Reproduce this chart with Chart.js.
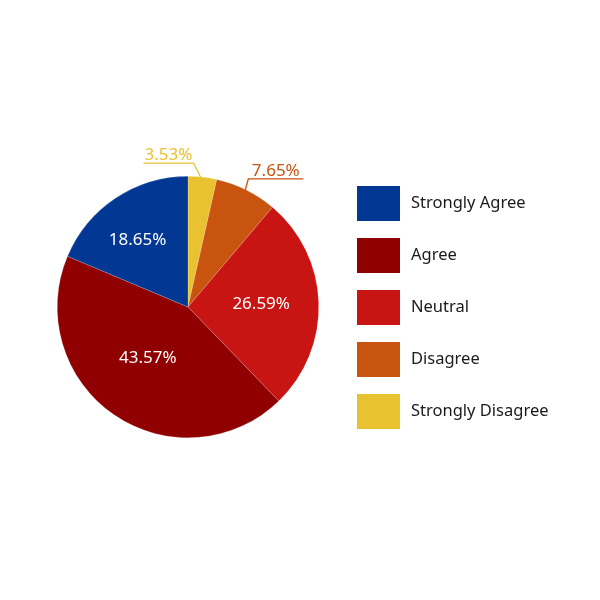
<!DOCTYPE html>
<html>
<head>
<meta charset="utf-8">
<script src="https://cdn.jsdelivr.net/npm/chart.js@4/dist/chart.umd.min.js"></script>
<style>
  html, body { margin: 0; padding: 0; background: #fff; }
  #wrap { width: 600px; height: 600px; }
</style>
</head>
<body>
<div id="wrap"><canvas id="chart" width="600" height="600"></canvas></div>
<script>
// slices go clockwise from 12 o'clock
var categories = ['Strongly Disagree', 'Disagree', 'Neutral', 'Agree', 'Strongly Agree'];
var shares = [3.53, 7.65, 26.59, 43.57, 18.65];
var colors = ['#E9C232', '#C9540F', '#C91414', '#900000', '#023894'];

// label placement per slice: inside (white) or outside with leader line
var labelStyle = [
  { out: true, ex: -9, ey: -14, len: -50 },
  { out: true, ex: 2, ey: -11, len: 55 },
  { r: 0.56, da: 0 },
  { r: 0.5, da: 0.06 },
  { r: 0.64, da: -0.06 }
];

var sliceLabels = {
  id: 'sliceLabels',
  afterDatasetsDraw: function(chart) {
    var ctx = chart.ctx;
    var arcs = chart.getDatasetMeta(0).data;
    ctx.save();
    ctx.font = '17px "Noto Sans", "Open Sans", sans-serif';
    ctx.textAlign = 'center';
    for (var i = 0; i < arcs.length; i++) {
      var a = arcs[i];
      var st = labelStyle[i];
      var txt = shares[i].toFixed(2) + '%';
      var mid = (a.startAngle + a.endAngle) / 2;
      if (st.out) {
        var px = a.x + Math.cos(mid) * a.outerRadius;
        var py = a.y + Math.sin(mid) * a.outerRadius;
        var ex = px + st.ex, ey = py + st.ey;
        ctx.strokeStyle = colors[i];
        ctx.lineWidth = 1.3;
        ctx.beginPath();
        ctx.moveTo(px - (st.ex < 0 ? 2 : 1), py);
        ctx.lineTo(ex, ey);
        ctx.lineTo(ex + st.len, ey);
        ctx.stroke();
        ctx.fillStyle = colors[i];
        ctx.textBaseline = 'alphabetic';
        ctx.fillText(txt, ex + st.len / 2, ey - 3);
      } else {
        var ang = mid + st.da;
        var r = a.outerRadius * st.r;
        ctx.fillStyle = '#ffffff';
        ctx.textBaseline = 'middle';
        ctx.fillText(txt, a.x + Math.cos(ang) * r, a.y + Math.sin(ang) * r);
      }
    }
    ctx.restore();
  }
};

// legend drawn on the right, listed in reverse slice order
var boxLegend = {
  id: 'boxLegend',
  afterDraw: function(chart) {
    var ctx = chart.ctx;
    ctx.save();
    ctx.font = '16.5px "Noto Sans", "Open Sans", sans-serif';
    ctx.textBaseline = 'middle';
    ctx.textAlign = 'left';
    var n = categories.length;
    for (var k = 0; k < n; k++) {
      var i = n - 1 - k;
      var top = 186 + k * 52;
      ctx.fillStyle = colors[i];
      ctx.fillRect(357, top, 43, 35);
      ctx.fillStyle = '#1a1a1a';
      ctx.fillText(categories[i], 411, top + 17.5);
    }
    ctx.restore();
  }
};

var ctx = document.getElementById('chart').getContext('2d');
var ans = new Chart(ctx, {
  type: 'pie',
  data: {
    labels: categories,
    datasets: [{
      data: shares,
      backgroundColor: colors,
      borderColor: 'rgba(255,255,255,0.35)',
      borderWidth: 0.5
    }]
  },
  options: {
    responsive: false,
    animation: false,
    layout: { padding: { left: 57, right: 281, top: 176, bottom: 162 } },
    plugins: {
      legend: { display: false },
      tooltip: { enabled: false }
    }
  },
  plugins: [sliceLabels, boxLegend]
});
</script>
</body>
</html>
